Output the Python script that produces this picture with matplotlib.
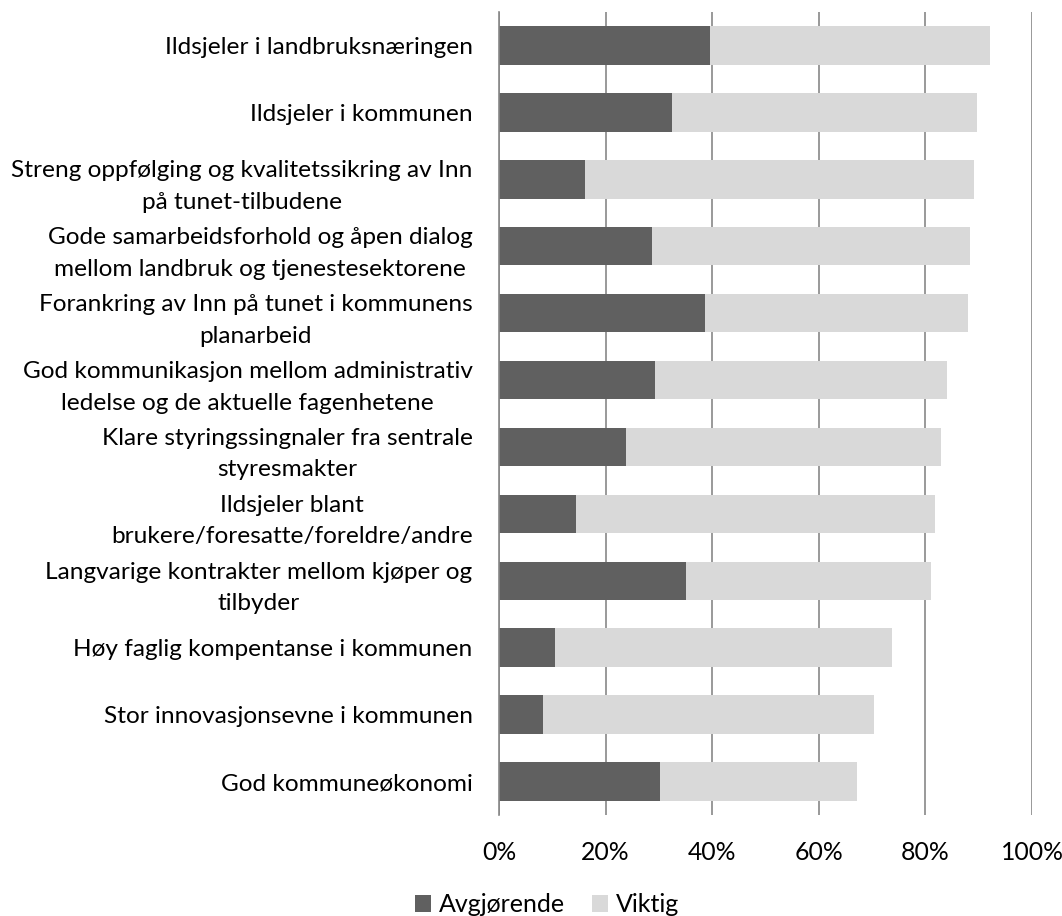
import matplotlib
matplotlib.use("Agg")
import matplotlib.pyplot as plt
from matplotlib.patches import Patch
from matplotlib.ticker import FuncFormatter

categories = [
    "Ildsjeler i landbruksnæringen",
    "Ildsjeler i kommunen",
    "Streng oppfølging og kvalitetssikring av Inn\npå tunet-tilbudene",
    "Gode samarbeidsforhold og åpen dialog\nmellom landbruk og tjenestesektorene",
    "Forankring av Inn på tunet i kommunens\nplanarbeid",
    "God kommunikasjon mellom administrativ\nledelse og de aktuelle fagenhetene",
    "Klare styringssingnaler fra sentrale\nstyresmakter",
    "Ildsjeler blant\nbrukere/foresatte/foreldre/andre",
    "Langvarige kontrakter mellom kjøper og\ntilbyder",
    "Høy faglig kompentanse i kommunen",
    "Stor innovasjonsevne i kommunen",
    "God kommuneøkonomi",
]
avgjorende = [39.5, 32.5, 16.2, 28.7, 38.6, 29.3, 23.8, 14.4, 35.1, 10.5, 8.2, 30.3]
viktig = [52.7, 57.2, 73.0, 59.7, 49.4, 54.7, 59.1, 67.4, 45.9, 63.2, 62.2, 36.9]
series_names = ["Avgjørende", "Viktig"]
xticks = [0, 20, 40, 60, 80, 100]

plt.rcParams['font.family'] = ['Lato', 'DejaVu Sans']

fig = plt.figure(figsize=(10.62, 9.16), dpi=100)
ax = fig.add_axes([499 / 1062, 1 - 815 / 916, 533 / 1062, (815 - 12) / 916])

y = list(range(len(categories)))
dark = "#606060"
light = "#d9d9d9"
ax.barh(y, avgjorende, height=0.575, color=dark, zorder=3, label=series_names[0])
ax.barh(y, viktig, left=avgjorende, height=0.575, color=light, zorder=3, label=series_names[1])

ax.set_ylim(len(categories) - 0.5, -0.5)
ax.set_xlim(0, 100)
ax.set_yticks(y)
ax.set_yticklabels(categories, fontsize=17.6, linespacing=1.62)
for lbl in ax.get_yticklabels():
    lbl.set_ha('right')
    lbl.set_multialignment('center')
ax.set_xticks(xticks)
ax.xaxis.set_major_formatter(FuncFormatter(lambda v, p: f"{int(v)}%"))
ax.tick_params(axis='x', length=0, labelsize=17.8, pad=19)
ax.tick_params(axis='y', length=0, pad=19)

ax.grid(axis='x', color="#878787", linewidth=1.2, zorder=0)
ax.set_axisbelow(True)
for s in ['top', 'right', 'bottom']:
    ax.spines[s].set_visible(False)
ax.spines['left'].set_color("#878787")
ax.spines['left'].set_linewidth(1.2)
ax.spines['left'].set_zorder(4)

handles = [Patch(facecolor=dark), Patch(facecolor=light)]
fig.legend(handles, series_names, loc='center', bbox_to_anchor=(547 / 1062, 1 - 905 / 916),
           ncol=2, frameon=False, fontsize=18, handlelength=0.65, handleheight=0.65,
           handletextpad=0.3, columnspacing=1.1, borderaxespad=0, borderpad=0)

fig.savefig("out.png", dpi=100)
